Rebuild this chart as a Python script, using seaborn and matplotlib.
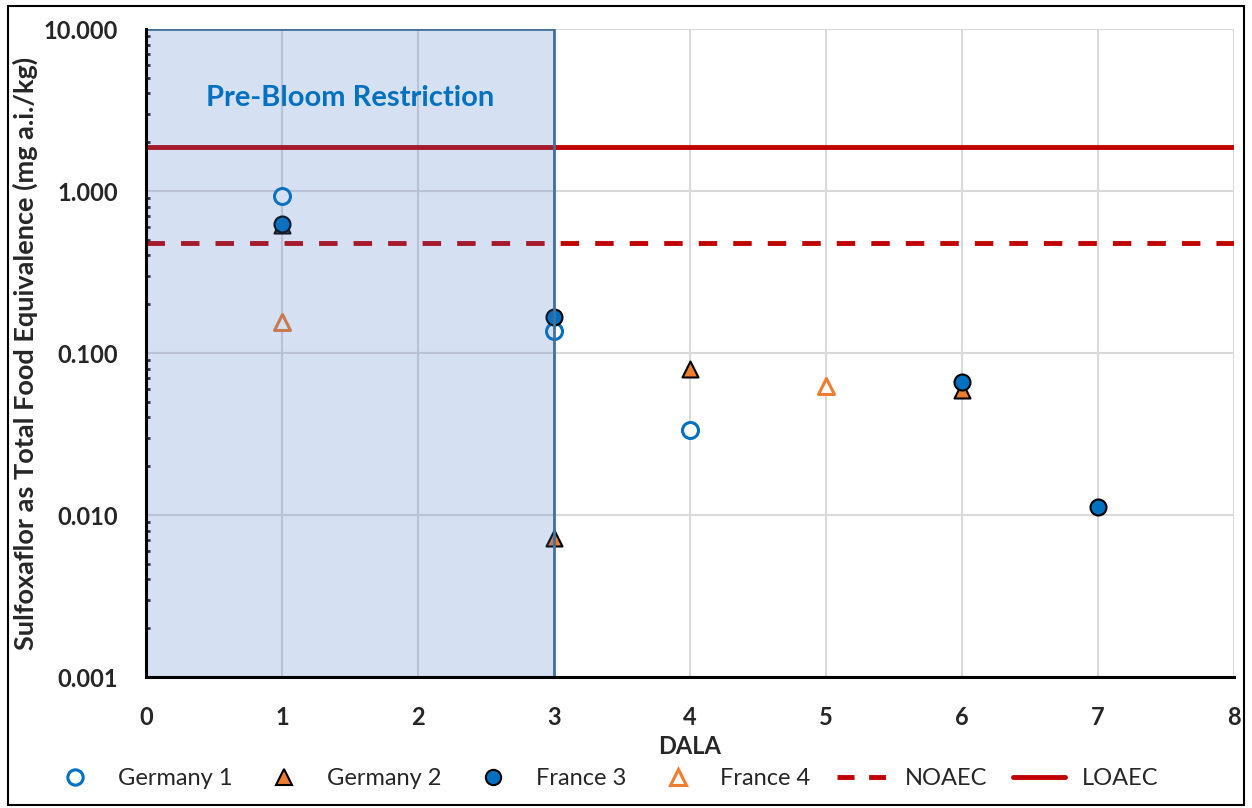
import matplotlib
matplotlib.use("Agg")
import matplotlib.pyplot as plt
import seaborn as sns
import pandas as pd
from matplotlib.lines import Line2D
from matplotlib.patches import Rectangle
from matplotlib.ticker import LogLocator, FixedLocator, FixedFormatter

# ---- data ----
germany1_x = [1, 3, 4]
germany1_y = [0.93, 0.137, 0.0335]
germany2_x = [1, 3, 4, 6]
germany2_y = [0.62, 0.0072, 0.080, 0.059]
france3_x = [1, 3, 6, 7]
france3_y = [0.625, 0.167, 0.066, 0.0112]
france4_x = [1, 5]
france4_y = [0.155, 0.063]
noaec = 0.477
loaec = 1.87
restriction_end = 3
ytick_vals = [0.001, 0.01, 0.1, 1, 10]
ytick_labels = ["0.001", "0.010", "0.100", "1.000", "10.000"]
xtick_vals = [0, 1, 2, 3, 4, 5, 6, 7, 8]

sns.set_theme(style="white")
plt.rcParams['font.family'] = ['Lato', 'DejaVu Sans']
plt.rcParams['font.weight'] = 'bold'

fig = plt.figure(figsize=(12.52, 8.08), dpi=100)
ax = fig.add_axes([0.1166, 0.1621, 0.869, 0.8020])

blue = "#0070C0"
orange = "#ED7D31"
red = "#C00000"

series = [
    ("Germany 1", germany1_x, germany1_y, "o", "white", blue, 2.2, 11.5),
    ("Germany 2", germany2_x, germany2_y, "^", orange, "black", 1.5, 11.5),
    ("France 3", france3_x, france3_y, "o", blue, "black", 1.5, 11.5),
    ("France 4", france4_x, france4_y, "^", "white", orange, 2.2, 11.5),
]
handles = []
for name, xs, ys, m, fc, ec, lw, ms in series:
    df = pd.DataFrame({"x": xs, "y": ys})
    sns.scatterplot(data=df, x="x", y="y", ax=ax, marker=m, s=ms ** 2,
                    color=fc, edgecolor=ec, linewidth=lw, zorder=4)
    handles.append(Line2D([], [], linestyle="none", marker=m, markersize=11,
                          markerfacecolor=fc, markeredgecolor=ec,
                          markeredgewidth=lw, label=name))

ax.axhline(noaec, color=red, lw=3.5, ls=(0, (3.8, 3.3)), zorder=3)
ax.axhline(loaec, color=red, lw=3.5, zorder=3)
handles.append(Line2D([], [], color=red, lw=3.5, ls=(0, (3.5, 3.0)), label="NOAEC"))
handles.append(Line2D([], [], color=red, lw=3.5, label="LOAEC"))

ax.set_yscale("log")
ax.set_ylim(0.001, 10)
ax.set_xlim(0, 8)

# shaded restriction region on top
ax.add_patch(Rectangle((0, 0.001), restriction_end, 10 - 0.001,
                       facecolor="#4472C4", alpha=0.22, edgecolor="none", zorder=5))
ax.add_patch(Rectangle((0, 0.001), restriction_end, 10 - 0.001,
                       facecolor="none", edgecolor="#41719C", lw=2, zorder=6))
ax.text(1.5, 3.75, "Pre-Bloom Restriction", color=blue, fontsize=21,
        fontweight="bold", ha="center", va="center", zorder=7)

ax.yaxis.set_major_locator(FixedLocator(ytick_vals))
ax.yaxis.set_major_formatter(FixedFormatter(ytick_labels))
ax.yaxis.set_minor_locator(LogLocator(base=10, subs=range(2, 10)))
ax.set_xticks(xtick_vals)
ax.grid(True, which="major", color="#D9D9D9", lw=1.5, zorder=0)
ax.set_axisbelow(True)

for s in ["top", "right"]:
    ax.spines[s].set_visible(False)
for s in ["left", "bottom"]:
    ax.spines[s].set_color("black")
    ax.spines[s].set_linewidth(2.2)
    ax.spines[s].set_zorder(8)

ax.tick_params(axis="both", which="major", direction="out", length=7, width=2,
               color="black", labelsize=17)
ax.tick_params(axis="y", which="major", pad=13)
ax.tick_params(axis="y", which="minor", direction="in", length=3, width=2,
               color="#222222", left=True)
ax.tick_params(axis="x", pad=14)

ax.set_xlabel("DALA", fontsize=17, fontweight="bold", labelpad=4)
ax.set_ylabel("Sulfoxaflor as Total Food Equivalence (mg a.i./kg)", fontsize=19.5,
              fontweight="bold", labelpad=4)

fig.legend(handles=handles, loc="center", bbox_to_anchor=(0.4824, 0.036),
           ncol=6, frameon=False, prop={"size": 17, "weight": "normal"},
           handlelength=2.2, columnspacing=1.1, handletextpad=0.7)

fig.patches.append(Rectangle((0.006, 0.004), 0.988, 0.988, transform=fig.transFigure,
                             fill=False, edgecolor="black", lw=1.5))

fig.savefig("out.png", dpi=100)
